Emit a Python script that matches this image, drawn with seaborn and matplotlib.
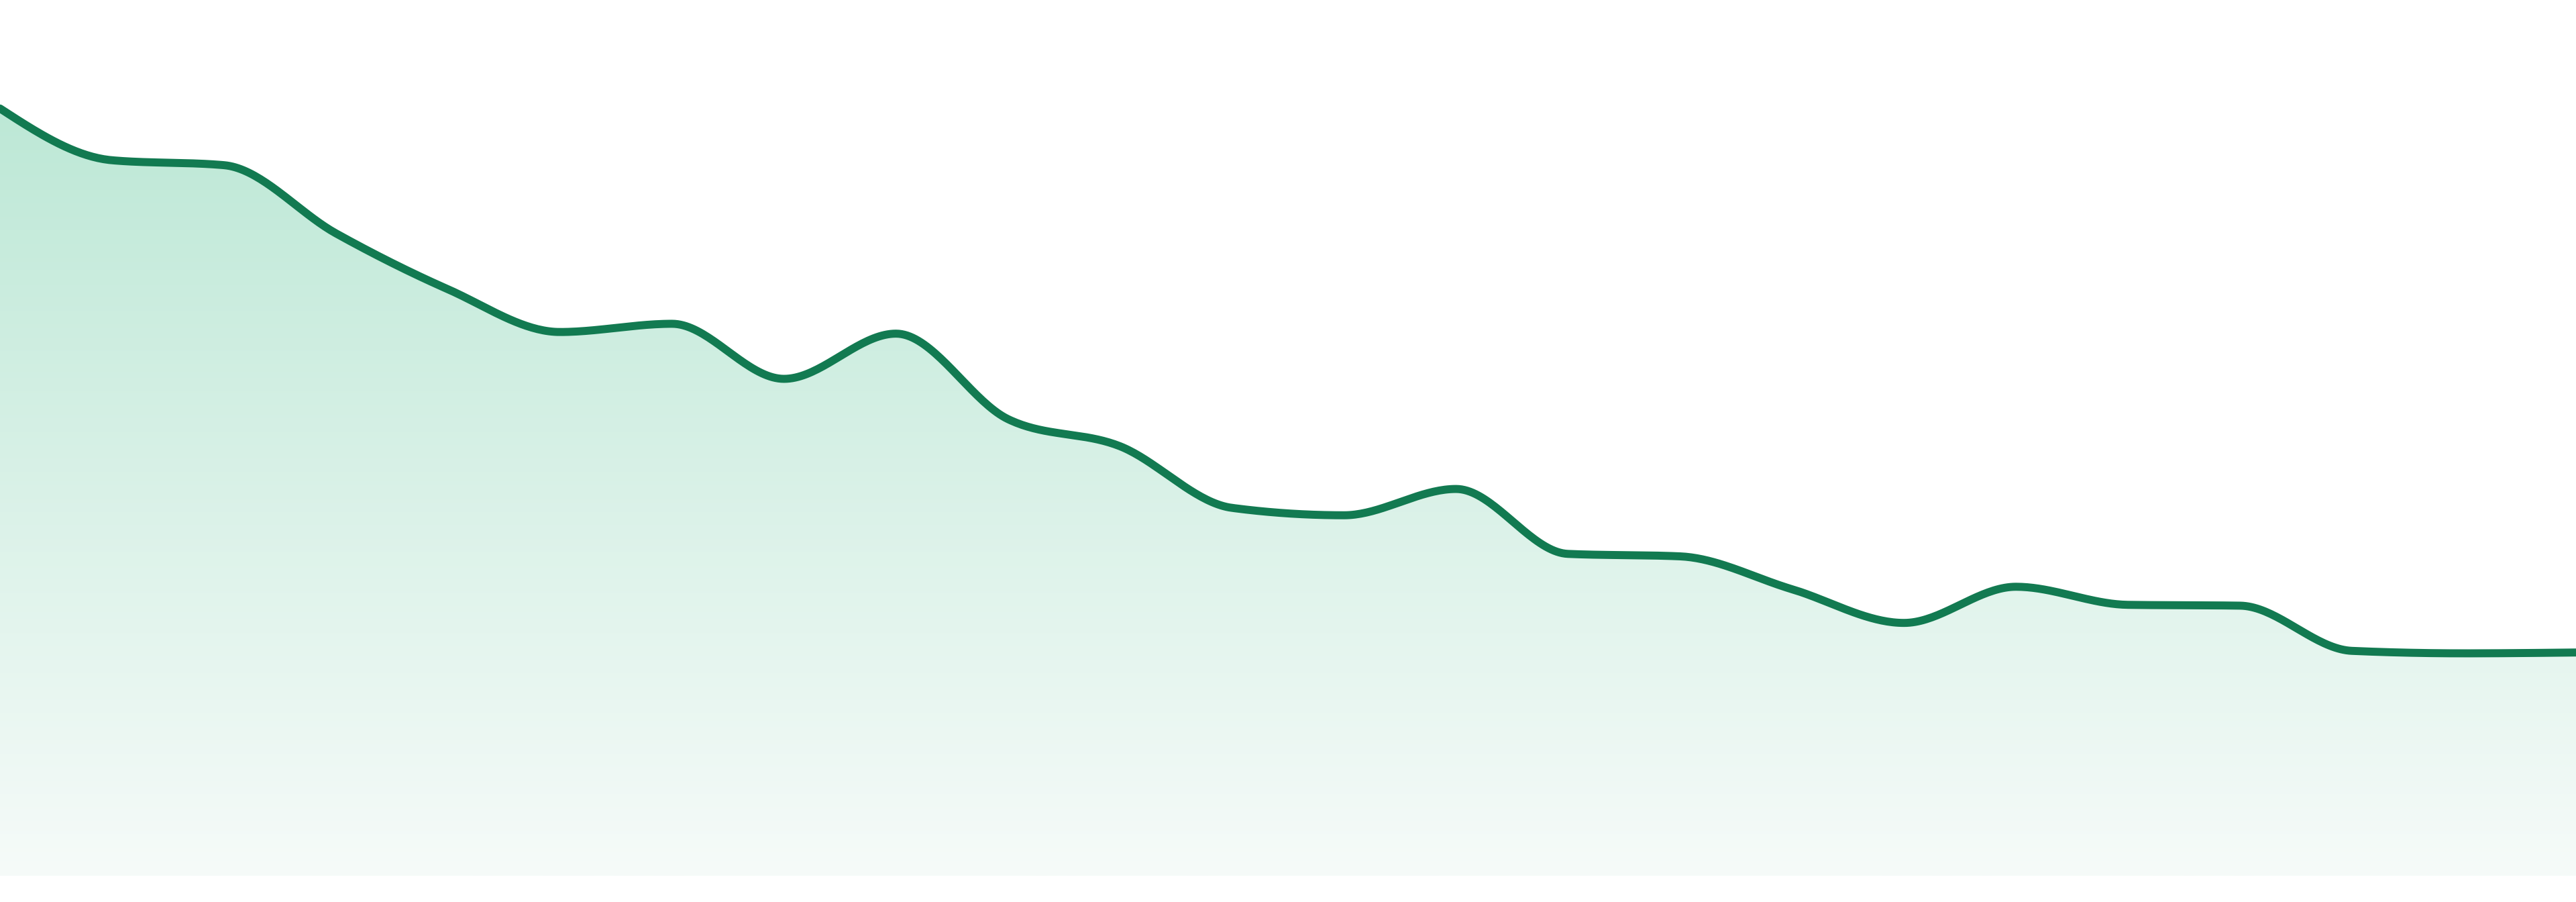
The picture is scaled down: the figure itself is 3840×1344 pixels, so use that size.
import numpy as np
import pandas as pd
import matplotlib
matplotlib.use("Agg")
import matplotlib.pyplot as plt
import seaborn as sns
from matplotlib.colors import LinearSegmentedColormap

# ---- data (arbitrary units, 0 = baseline) ----
periods = list(range(24))
values = [467, 435.5, 432.5, 391, 357, 331, 336, 302.5, 330, 278, 261.5, 224,
          219.5, 235.5, 196, 194.5, 174.5, 154, 176, 165, 164.5, 137, 135.5, 136]

LINE_COLOR = "#127a51"
TOP_FILL = "#bde8d6"
BOTTOM_FILL = "#f6fbf9"


def monotone_x(x, y, n=40):
    """d3 curveMonotoneX style rendering of the line between the data points."""
    x = np.asarray(x, float)
    y = np.asarray(y, float)
    h = np.diff(x)
    s = np.diff(y) / h
    t = np.zeros_like(y)
    for i in range(1, len(x) - 1):
        h0, h1 = h[i - 1], h[i]
        s0, s1 = s[i - 1], s[i]
        p = (s0 * h1 + s1 * h0) / (h0 + h1)
        t[i] = (np.sign(s0) + np.sign(s1)) * min(abs(s0), abs(s1), 0.5 * abs(p))
    t[0] = (3 * s[0] - t[1]) / 2
    t[-1] = (3 * s[-1] - t[-2]) / 2
    xs, ys = [], []
    for i in range(len(x) - 1):
        u = np.linspace(0, 1, n, endpoint=(i == len(x) - 2))
        hh = h[i]
        h00 = 2 * u**3 - 3 * u**2 + 1
        h10 = u**3 - 2 * u**2 + u
        h01 = -2 * u**3 + 3 * u**2
        h11 = u**3 - u**2
        xs.append(x[i] + u * hh)
        ys.append(h00 * y[i] + h10 * hh * t[i] + h01 * y[i + 1] + h11 * hh * t[i + 1])
    return np.concatenate(xs), np.concatenate(ys)


sx, sy = monotone_x(periods, values)
curve = pd.DataFrame({"period": sx, "value": sy})

sns.set_theme(style="white")
fig = plt.figure(figsize=(38.4, 13.44), dpi=100)
ax = fig.add_axes([0, 0, 1, 1])

ymin, ymax = -15.8, 533.0
ax.set_xlim(0, 23)
ax.set_ylim(ymin, ymax)

# vertical gradient fill clipped to the area under the curve
poly = ax.fill_between(sx, 0, sy, color="none", lw=0)
cmap = LinearSegmentedColormap.from_list("g", [BOTTOM_FILL, TOP_FILL])
grad = np.linspace(0, 1, 512).reshape(-1, 1)
img = ax.imshow(grad, cmap=cmap, origin="lower", aspect="auto",
                extent=[0, 23, 0, max(values)], interpolation="bicubic", zorder=1)
img.set_clip_path(poly.get_paths()[0], transform=ax.transData)

sns.lineplot(data=curve, x="period", y="value", ax=ax, color=LINE_COLOR,
             linewidth=8.6, sort=False, estimator=None, zorder=3)
ax.lines[-1].set_solid_capstyle("round")
ax.lines[-1].set_solid_joinstyle("round")

ax.set_xlim(0, 23)
ax.set_ylim(ymin, ymax)
ax.set_axis_off()
fig.savefig("out.png", dpi=100, facecolor="white")
